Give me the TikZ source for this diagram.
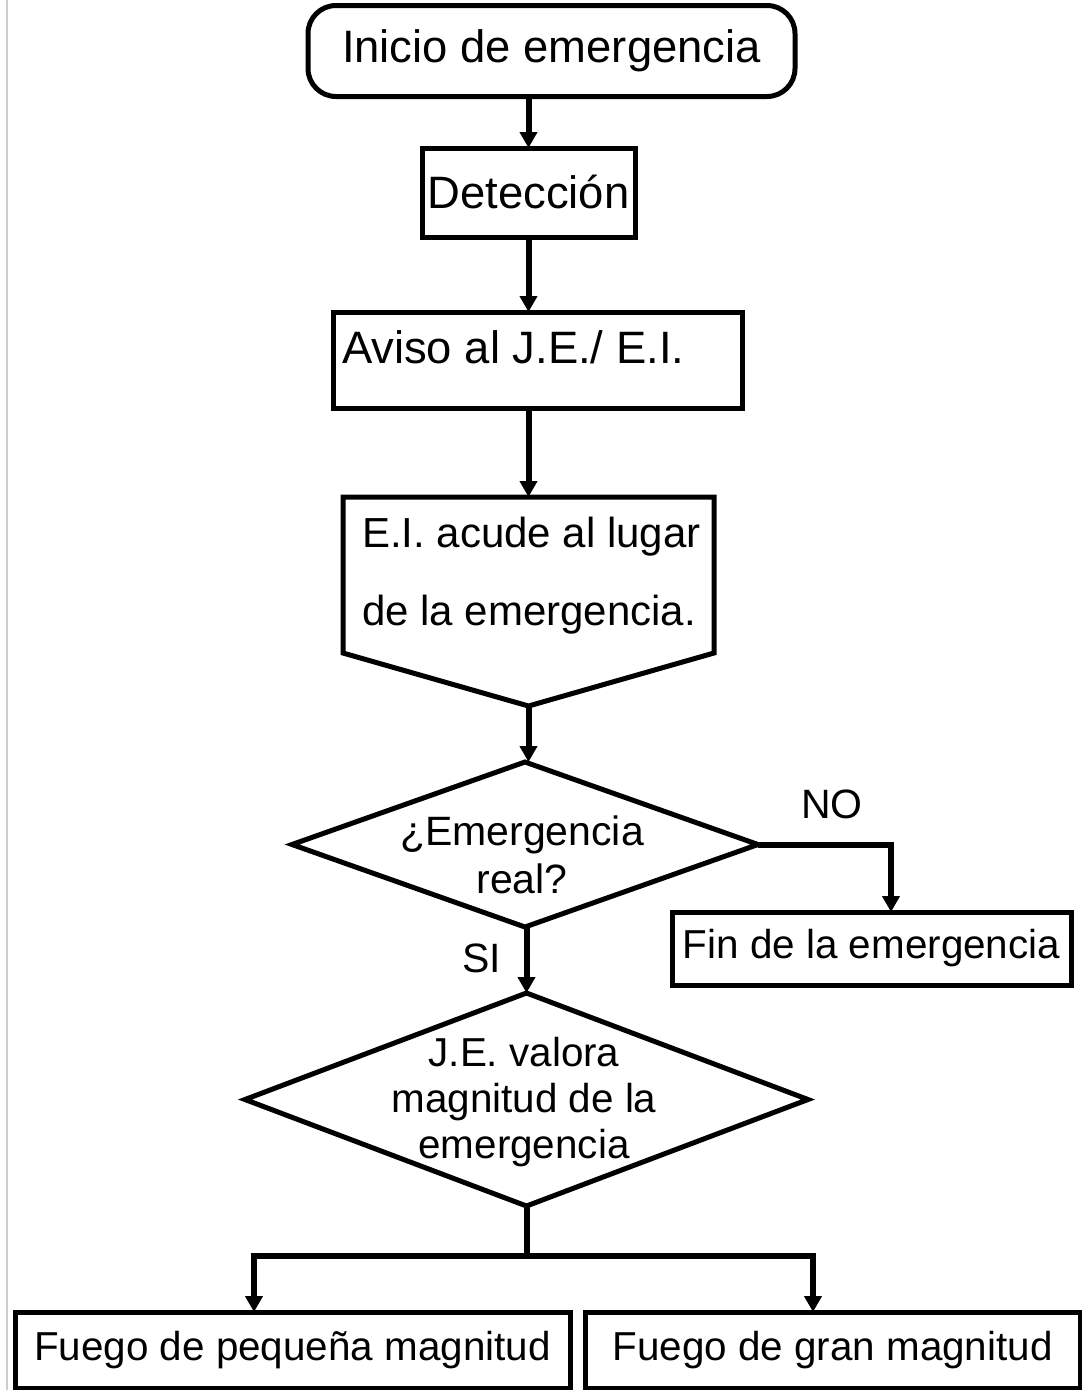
\documentclass[tikz,border=0pt]{standalone}
\usepackage{fontspec}
\setmainfont{Liberation Sans}
\usetikzlibrary{arrows.meta,calc}
\begin{document}
\begin{tikzpicture}[x=1pt,y=-1pt,
  shapeline/.style={line width=5pt, line join=miter},
  boxnode/.style={draw, shapeline, inner sep=0pt, outer sep=0pt},
  ghost/.style={inner sep=0pt, outer sep=0pt},
  txt/.style={inner sep=0pt, outer sep=0pt},
  conn/.style={line width=6pt, -{Triangle[width=17pt,length=16pt]}},
  plainline/.style={line width=6pt},
  bigfont/.style={font=\fontsize{45.4}{54}\selectfont},
  midfont/.style={font=\fontsize{41}{48}\selectfont},
  smallfont/.style={font=\fontsize{40.4}{46}\selectfont}
]
\useasboundingbox (0,0) rectangle (1082,1390);
\draw[gray!40, line width=2pt] (7,0) -- (7,1390);

% boxes
\node[boxnode, rounded corners=28pt, minimum width=487pt, minimum height=91pt, bigfont] (start) at (551.5,51) {Inicio de emergencia};
\node[boxnode, minimum width=213pt, minimum height=89pt, bigfont] (det) at (528.5,192.5) {Detección};
\node[boxnode, minimum width=409pt, minimum height=96pt] (aviso) at (537.5,360) {};
\node[txt, anchor=base west, bigfont] (avisot) at (342,363) {Aviso al J.E./ E.I.};

% off-page pentagon
\node[ghost, minimum width=371pt, minimum height=209pt] (pent) at (528.5,601.5) {};
\draw[shapeline] (pent.north west) -- (pent.north east) -- ($(pent.south east)+(0,-53)$) -- (pent.south) -- ($(pent.south west)+(0,-53)$) -- cycle;
\node[txt, anchor=west, align=left, font=\fontsize{42}{78}\selectfont] (pentt) at (362,575.4) {E.I. acude al lugar\\de la emergencia.};

% decision 1
\node[ghost, minimum width=466pt, minimum height=165pt] (d1) at (525,844.5) {};
\draw[shapeline] (d1.north) -- (d1.east) -- (d1.south) -- (d1.west) -- cycle;
\node[txt, align=center, midfont] (d1t) at (522,854.4) {¿Emergencia\\real?};

% decision 2
\node[ghost, minimum width=563pt, minimum height=213pt] (d2) at (526.5,1099.5) {};
\draw[shapeline] (d2.north) -- (d2.east) -- (d2.south) -- (d2.west) -- cycle;
\node[txt, align=center, smallfont] (d2t) at (524,1102) {J.E. valora\\magnitud de la\\emergencia};

\node[boxnode, minimum width=399pt, minimum height=73pt, smallfont] (fin) at (871.5,948.5) {Fin de la emergencia};
\node[boxnode, minimum width=555pt, minimum height=76pt, smallfont] (small) at (292.5,1350) {Fuego de pequeña magnitud};
\node[boxnode, minimum width=495pt, minimum height=76pt, smallfont] (big) at (832.5,1350) {Fuego de gran magnitud};

% labels
\node[txt, anchor=base, midfont] (nolab) at (832,818) {NO};
\node[txt, anchor=base, midfont] (silab) at (482,972) {SI};

% connectors
\draw[conn] (det.north |- start.south) -- (det.north);
\draw[conn] (det.south) -- (det.south |- aviso.north);
\draw[conn] (det.south |- aviso.south) -- (pent.north);
\draw[conn] (pent.south) -- (pent.south |- d1.north);
\draw[conn] (d2.north |- d1.south) -- (d2.north);
\draw[conn] (d1.east) -| ($(fin.north)+(19.5,0)$);
\coordinate (split) at (526.5,1256);
\draw[plainline] (d2.south) -- (split);
\draw[conn] (split) -| ($(small.north)+(-38.5,0)$);
\draw[conn] (split) -| ($(big.north)+(-19.5,0)$);
\end{tikzpicture}
\end{document}
